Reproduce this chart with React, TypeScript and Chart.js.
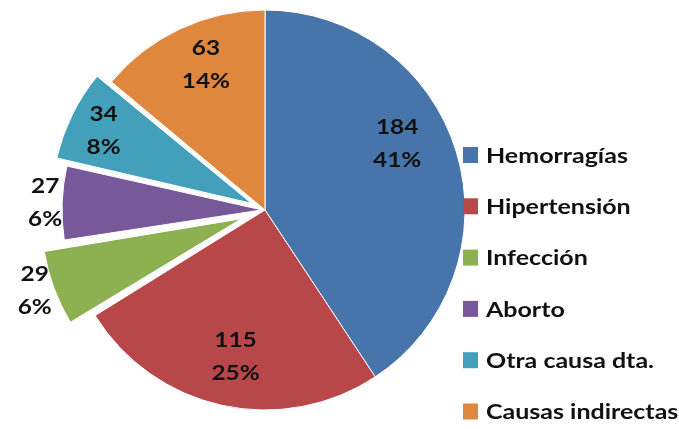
import React, { useEffect, useRef } from "react";
import { Chart, registerables } from "chart.js";

Chart.register(...registerables);

// ---- data ----
const categories = [
  "Hemorragías",
  "Hipertensión",
  "Infección",
  "Aborto",
  "Otra causa dta.",
  "Causas indirectas",
];
const counts = [184, 115, 29, 27, 34, 63];
const percentLabels = ["41%", "25%", "6%", "6%", "8%", "14%"];

// ---- styles ----
const colors = ["#4674AB", "#B8474A", "#8DB050", "#77599A", "#43A0BA", "#E0873E"];
// Chart.js v4 moves an arc by offset/4, so these give ~0/0/25/3/15/0 px shifts
const explodeOffsets = [0, 0, 100, 12, 60, 0];
const labelRadiusFactor = [0.74, 0.75, 1.22, 1.1, 0.9, 0.785];
const labelAngleShift = [-10, -1, 1, 0, 0, 3];
const FONT_FAMILY = "Lato, 'Open Sans', sans-serif";
const TEXT_COLOR = "#111111";
const TEXT_STRETCH = 1.16;

function stretchedText(ctx: CanvasRenderingContext2D, text: string, x: number, y: number, sx: number) {
  ctx.save();
  ctx.translate(x, y);
  ctx.scale(sx, 1);
  ctx.fillText(text, 0, 0);
  ctx.restore();
}

// keep exploded slices at the same outer radius as the others
const explodeRadiusFix = {
  id: "explodeRadiusFix",
  beforeDatasetsDraw(chart: any) {
    const meta = chart.getDatasetMeta(0);
    const base = (meta.controller as any).outerRadius;
    meta.data.forEach((arc: any, i: number) => {
      const off = (explodeOffsets[i] || 0) / 4;
      const circ = arc.circumference;
      const fix = 1 - Math.sin(Math.min(Math.PI, circ || 0));
      arc.outerRadius = base - off * fix;
    });
  },
};

const sliceLabelPlugin = {
  id: "sliceLabels",
  afterDatasetsDraw(chart: any) {
    const meta = chart.getDatasetMeta(0);
    const base = (meta.controller as any).outerRadius;
    const ctx = chart.ctx;
    ctx.save();
    ctx.font = `bold 21px ${FONT_FAMILY}`;
    ctx.fillStyle = TEXT_COLOR;
    ctx.textAlign = "center";
    ctx.textBaseline = "middle";
    meta.data.forEach((arc: any, i: number) => {
      const mid = (arc.startAngle + arc.endAngle) / 2 + (labelAngleShift[i] * Math.PI) / 180;
      const r = base * labelRadiusFactor[i];
      const cx = arc.x + Math.cos(mid) * r;
      const cy = arc.y + Math.sin(mid) * r;
      stretchedText(ctx, String(counts[i]), cx, cy - 16.5, TEXT_STRETCH);
      stretchedText(ctx, percentLabels[i], cx, cy + 16.5, TEXT_STRETCH);
    });
    ctx.restore();
  },
};

const legendPlugin = {
  id: "sideLegend",
  afterDraw(chart: any) {
    const ctx = chart.ctx;
    const labels = chart.data.labels as string[];
    const bg = chart.data.datasets[0].backgroundColor as string[];
    const boxX = 463;
    const startY = 155;
    const step = 51.3;
    ctx.save();
    ctx.font = `bold 21px ${FONT_FAMILY}`;
    ctx.textAlign = "left";
    ctx.textBaseline = "middle";
    labels.forEach((lab, i) => {
      const y = startY + step * i;
      ctx.fillStyle = bg[i];
      ctx.fillRect(boxX, y - 8, 15, 16);
      ctx.fillStyle = TEXT_COLOR;
      stretchedText(ctx, lab, boxX + 23, y + 1, 1.19);
    });
    ctx.restore();
  },
};

export default function App() {
  const canvasRef = useRef<HTMLCanvasElement | null>(null);

  useEffect(() => {
    if (!canvasRef.current) return;
    const chart = new Chart(canvasRef.current, {
      type: "pie",
      data: {
        labels: categories,
        datasets: [
          {
            data: counts,
            backgroundColor: colors,
            borderColor: "#ffffff",
            borderWidth: 1,
            offset: explodeOffsets,
            radius: 200,
          } as any,
        ],
      },
      options: {
        animation: false,
        responsive: true,
        maintainAspectRatio: false,
        layout: { padding: { left: 0, right: 149, top: 0, bottom: 9 } },
        plugins: {
          legend: { display: false },
          tooltip: { enabled: false },
          title: { display: false },
        },
      },
      plugins: [explodeRadiusFix, sliceLabelPlugin, legendPlugin],
    });
    return () => chart.destroy();
  }, []);

  return (
    <div
      style={{
        position: "absolute",
        left: 0,
        top: 0,
        width: 679,
        height: 429,
        background: "#ffffff",
      }}
    >
      <canvas ref={canvasRef} />
    </div>
  );
}
